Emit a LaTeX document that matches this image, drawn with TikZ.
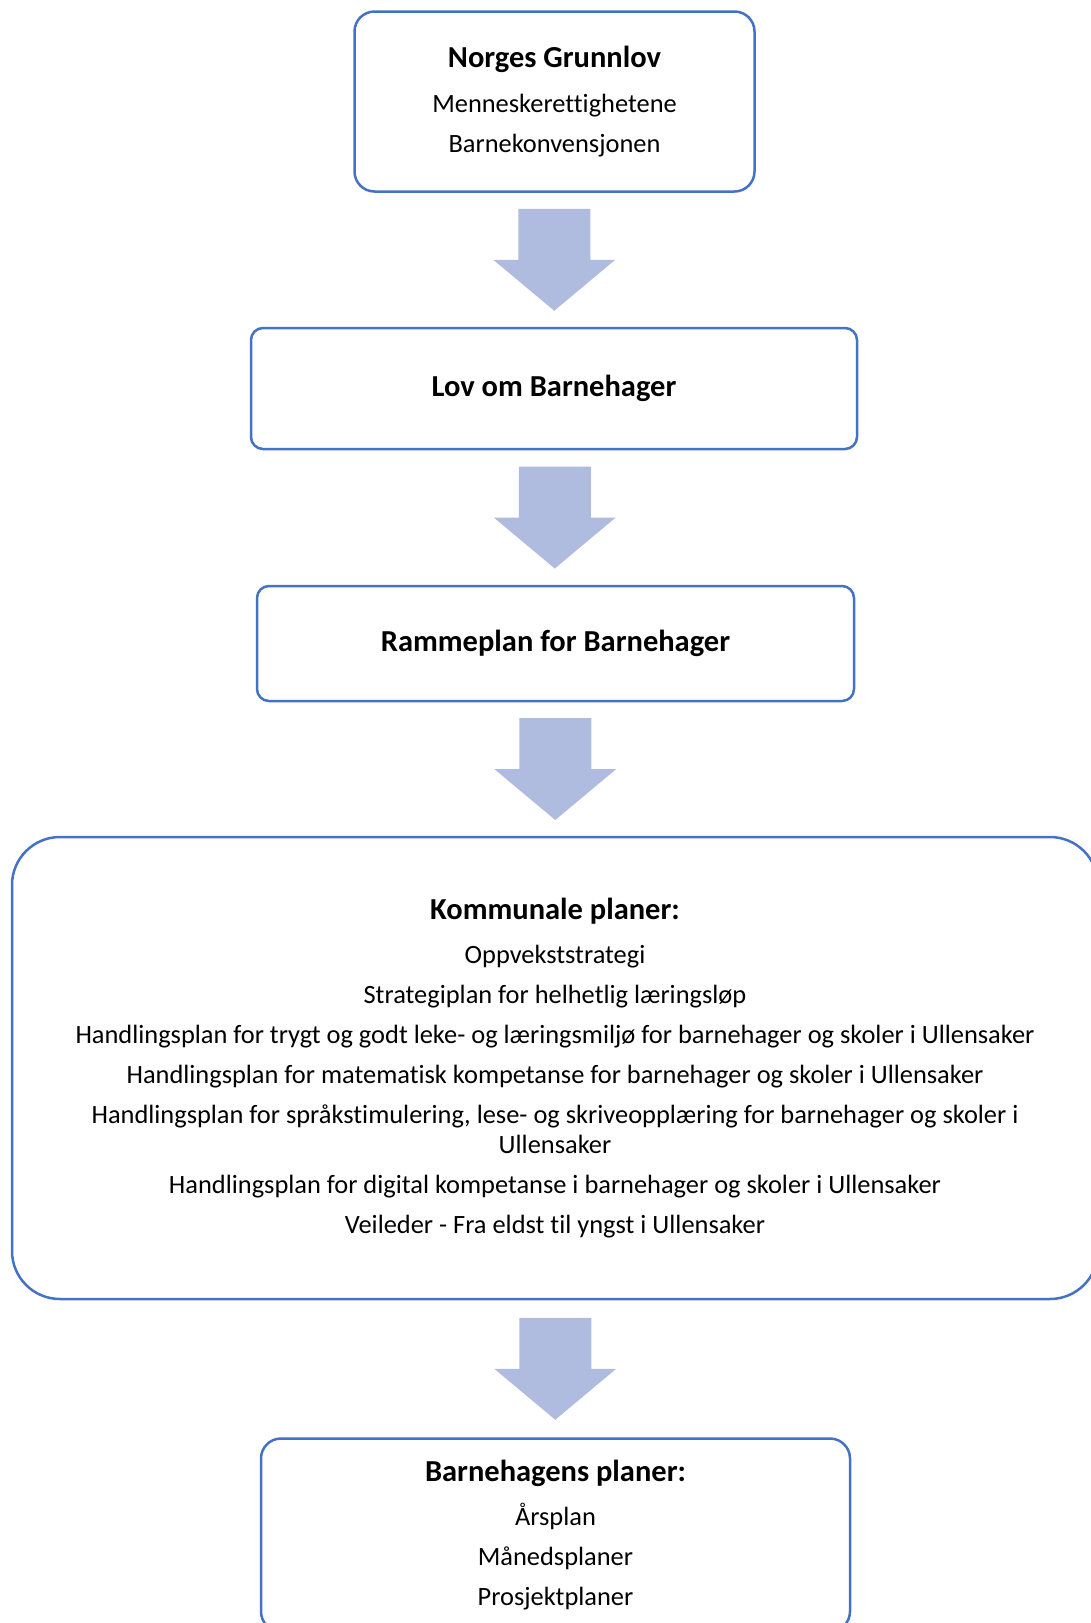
\documentclass[tikz,border=0pt]{standalone}
\usepackage{fontspec}
\setmainfont{Carlito}[Ligatures={NoCommon}]
\usetikzlibrary{calc}
\definecolor{boxblue}{HTML}{4472C4}
\definecolor{arrowblue}{HTML}{AFBCE0}
\begin{document}
\begin{tikzpicture}[x=1pt,y=-1pt,
  planbox/.style={draw=boxblue, line width=2.5pt, fill=white, align=center, inner sep=0pt,
    font=\fontsize{26.4}{29.5}\selectfont},
  downarrow/.pic={\fill[arrowblue] (-36,-51) -- (36,-51) -- (36,0) -- (61,0) -- (0,51) -- (-61,0) -- (-36,0) -- cycle;}
]
\newcommand{\ttl}[1]{{\fontsize{30.5}{29.5}\selectfont\bfseries #1}}
\useasboundingbox (0,0) rectangle (1091,1623);
\begin{scope}
\clip (0,0) rectangle (1091,1623);
\node[planbox, rounded corners=20pt, minimum width=400pt, minimum height=180pt] (b1) at (554.5,101.5)
  {\ttl{Norges Grunnlov}\\[15pt] Menneskerettighetene\\[10.5pt] Barnekonvensjonen};
\node[planbox, rounded corners=12pt, minimum width=606pt, minimum height=121pt] (b2) at (554,388.5)
  {\ttl{Lov om Barnehager}};
\node[planbox, rounded corners=12pt, minimum width=597pt, minimum height=115pt] (b3) at (555.5,643.5)
  {\ttl{Rammeplan for Barnehager}};
\node[planbox, rounded corners=48pt, minimum width=1086pt, minimum height=462pt] (b4) at (555,1068)
  {\ttl{Kommunale planer:}\\[15pt]
   Oppvekststrategi\\[10.5pt]
   Strategiplan for helhetlig læringsløp\\[10.5pt]
   Handlingsplan for trygt og godt leke- og læringsmiljø for barnehager og skoler i Ullensaker\\[10.5pt]
   Handlingsplan for matematisk kompetanse for barnehager og skoler i Ullensaker\\[10.5pt]
   Handlingsplan for språkstimulering, lese- og skriveopplæring for barnehager og skoler i\\
   Ullensaker\\[10.5pt]
   Handlingsplan for digital kompetanse i barnehager og skoler i Ullensaker\\[10.5pt]
   Veileder - Fra eldst til yngst i Ullensaker};
\node[planbox, rounded corners=20pt, minimum width=589pt, minimum height=193pt] (b5) at (555.5,1535)
  {\ttl{Barnehagens planer:}\\[15pt] Årsplan\\[10.5pt] Månedsplaner\\[10.5pt] Prosjektplaner};
\pic at ($(b1.south)!0.5!(b2.north)$) {downarrow};
\pic at ($(b2.south)!0.5!(b3.north)$) {downarrow};
\pic at ($(b3.south)!0.5!(b4.north)$) {downarrow};
\pic at ($(b4.south)!0.5!(b5.north)$) {downarrow};
\end{scope}
\end{tikzpicture}
\end{document}
